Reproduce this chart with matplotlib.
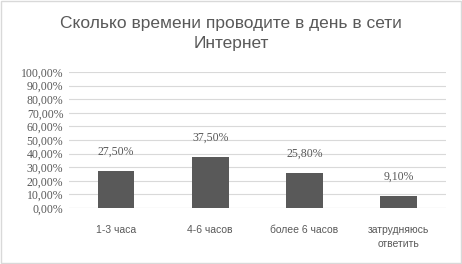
import matplotlib
matplotlib.use("Agg")
import matplotlib.pyplot as plt
from matplotlib.patches import Rectangle

categories = ["1-3 часа", "4-6 часов", "более 6 часов", "затрудняюсь\nответить"]
values = [27.5, 37.5, 25.8, 9.1]
yticks = [0, 10, 20, 30, 40, 50, 60, 70, 80, 90, 100]
title = "Сколько времени проводите в день в сети\nИнтернет"

def pct(v):
    return f"{v:.2f}".replace(".", ",") + "%"

fig = plt.figure(figsize=(4.62, 2.64), dpi=100)
fig.patch.set_facecolor("white")
fig.add_artist(Rectangle((0.002, 0.004), 0.995, 0.992, transform=fig.transFigure,
                         fill=False, edgecolor="#d9d9d9", linewidth=1.0))

ax = fig.add_axes([0.149, 0.212, 0.816, 0.515])
x = list(range(len(categories)))
ax.bar(x, values, width=0.39, color="#595959", zorder=3)
ax.set_xlim(-0.5, len(categories) - 0.5)
ax.set_ylim(0, 100)
ax.set_yticks(yticks)
ax.set_yticklabels([pct(v) for v in yticks], family="Liberation Serif",
                   fontsize=8.5, color="#595959")
ax.set_xticks(x)
ax.set_xticklabels(categories, family="Liberation Sans", fontsize=7.5,
                   color="#595959", linespacing=1.6)
ax.tick_params(axis="both", length=0)
ax.tick_params(axis="x", pad=12)
ax.tick_params(axis="y", pad=4)
ax.grid(axis="y", color="#d9d9d9", linewidth=0.8, zorder=0)
for s in ax.spines.values():
    s.set_visible(False)
ax.axhline(0, color="#d9d9d9", linewidth=0.8, zorder=2)

for xi, v in zip(x, values):
    ax.annotate(pct(v), (xi, v), xytext=(0, 9.5), textcoords="offset points",
                ha="center", va="bottom", family="Liberation Serif",
                fontsize=8.5, color="#595959")

fig.text(0.5, 0.873, title, ha="center", va="center", fontsize=12.5,
         color="#595959", family="Liberation Sans", linespacing=1.45)

fig.savefig("out.png", dpi=100)
